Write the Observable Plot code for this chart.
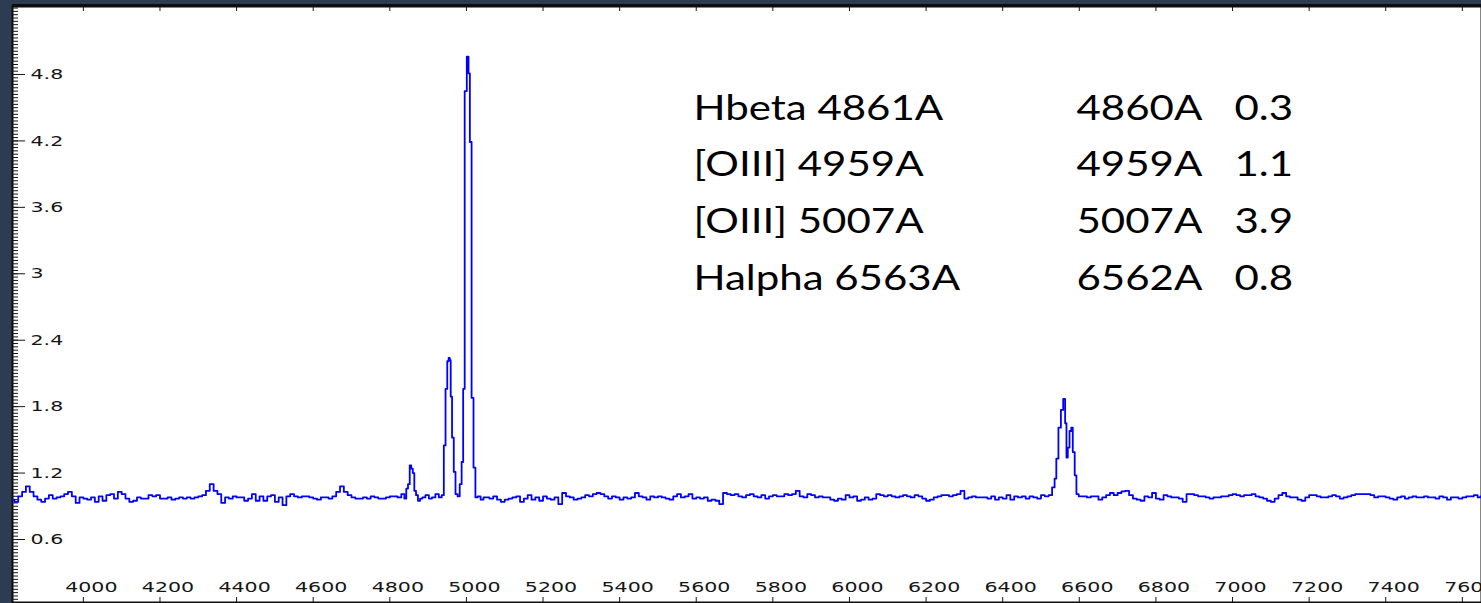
<!DOCTYPE html>
<html>
<head>
<meta charset="utf-8">
<script src="https://cdn.jsdelivr.net/npm/d3@7"></script>
<script src="https://cdn.jsdelivr.net/npm/@observablehq/plot@0.6"></script>
<style>
  html, body { margin: 0; padding: 0; width: 1481px; height: 603px; overflow: hidden; background: #2c3d52; }
  #chart { position: absolute; left: 11px; top: 2px; }
</style>
</head>
<body>
<div id="chart"></div>
<script>
// ---- data ----
// spectrum: [wavelength (Å), relative flux]
const spectrum = [
  [3815,.96],[3825,.94],[3835,.99],[3845,1.03],[3855,1.08],[3865,1.03],[3875,.99],[3885,.96],[3895,.94],[3905,.97],
  [3915,1.00],[3925,.97],[3935,.98],[3945,.99],[3955,1.01],[3965,1.03],[3975,.99],[3985,.93],[3995,.98],[4005,.97],
  [4015,.96],[4025,.98],[4035,.94],[4045,.99],[4055,.95],[4065,1.00],[4075,1.01],[4085,.97],[4095,1.03],[4105,1.01],
  [4115,.97],[4125,.94],[4135,.95],[4145,.98],[4155,.97],[4165,.97],[4175,1.00],[4185,.99],[4195,1.00],[4205,.97],
  [4215,.97],[4225,.98],[4235,.96],[4245,.97],[4255,.98],[4265,.97],[4275,.98],[4285,.97],[4295,.98],[4305,.99],
  [4315,1.00],[4325,1.04],[4335,1.10],[4345,1.04],[4355,1.01],[4365,.93],[4375,.98],[4385,.97],[4395,.99],[4405,.98],
  [4415,.98],[4425,.95],[4435,.97],[4445,1.01],[4455,.95],[4465,.99],[4475,.95],[4485,.99],[4495,1.00],[4505,.94],
  [4515,.98],[4525,.91],[4535,.99],[4545,1.01],[4555,.99],[4565,.98],[4575,.99],[4585,.99],[4595,.98],[4605,.97],
  [4615,.96],[4625,.98],[4635,.98],[4645,.97],[4655,.99],[4665,1.03],[4675,1.08],[4685,1.03],[4695,1.00],[4705,.98],
  [4715,.97],[4725,.97],[4735,.98],[4745,.97],[4755,.99],[4765,.98],[4775,.97],[4785,.97],[4795,.98],[4805,.99],
  [4815,.99],[4825,.98],[4835,1.01],
  // Hbeta, [OIII] 4959, [OIII] 5007
  [4841,.97],[4845,1.06],[4850,1.10],[4854,1.27],[4858,1.24],[4862,1.20],[4866,1.04],[4871,1.00],[4876,.95],[4882,.97],
  [4888,.98],[4898,1.00],[4906,.97],[4914,.98],[4924,1.01],[4932,.98],[4939,1.00],[4943,1.45],[4948,1.96],[4952,2.21],
  [4955,2.24],[4958,2.22],[4960,1.89],[4965,1.52],[4969,1.21],[4974,1.01],[4980,.99],[4985,1.10],[4990,1.30],[4993,1.96],
  [4998,4.65],[5004,4.96],[5007,4.81],[5011,4.19],[5016,1.88],[5021,1.25],[5026,.98],[5033,.99],[5041,.96],[5048,.98],
  [5055,.98],[5065,.97],[5075,.99],[5085,.96],[5095,.94],[5105,.96],[5115,.97],[5125,.98],[5135,.99],[5145,.94],
  [5155,.97],[5165,1.00],[5175,.96],[5185,.98],[5195,.95],[5205,.99],[5215,.97],[5225,.96],[5235,.98],[5245,.92],
  [5255,1.02],[5265,.99],[5275,.98],[5285,.96],[5295,.97],[5305,.98],[5315,1.00],[5325,.99],[5335,1.01],[5345,1.02],
  [5355,1.01],[5365,.99],[5375,.97],[5385,.99],[5395,.98],[5405,.96],[5415,.98],[5425,.97],[5435,.98],[5445,1.02],
  [5455,.99],[5465,.98],[5475,.96],[5485,.99],[5495,.98],[5505,.99],[5515,.98],[5525,.97],[5535,.96],[5545,.99],
  [5555,1.01],[5565,.98],[5575,.99],[5585,1.01],[5595,.97],[5605,.98],[5615,.97],[5625,.98],[5635,.95],[5645,.96],
  [5655,.95],[5665,.92],[5675,1.02],[5685,1.01],[5695,1.00],[5705,1.01],[5715,.99],[5725,.98],[5735,1.00],[5745,1.01],
  [5755,.99],[5765,.98],[5775,1.00],[5785,.97],[5795,.99],[5805,1.00],[5815,.99],[5825,.99],[5835,1.01],[5845,1.00],
  [5855,1.01],[5865,1.04],[5875,.99],[5885,.98],[5895,1.01],[5905,1.00],[5915,.98],[5925,.99],[5935,.98],[5945,.98],
  [5955,.96],[5965,.95],[5975,.97],[5985,.96],[5995,1.00],[6005,.98],[6015,.99],[6025,.95],[6035,.96],[6045,.98],
  [6055,.96],[6065,.97],[6075,1.01],[6085,1.00],[6095,.99],[6105,1.00],[6115,.99],[6125,.98],[6135,.99],[6145,1.00],
  [6155,.99],[6165,.98],[6175,1.00],[6185,.99],[6195,.97],[6205,.95],[6215,.96],[6225,.98],[6235,.99],[6245,1.00],
  [6255,1.00],[6265,.99],[6275,1.00],[6285,1.01],[6295,1.04],[6305,.97],[6315,.98],[6325,.99],[6335,.98],[6345,.98],
  [6355,.98],[6365,.97],[6375,.99],[6385,.96],[6395,.98],[6405,.97],[6415,1.00],[6425,.96],[6435,.99],[6445,.98],
  [6455,.99],[6465,.97],[6475,.99],[6485,.98],[6495,.97],[6505,1.00],[6515,.99],
  // Halpha + [NII]
  [6525,1.00],[6533,1.07],[6538,1.15],[6542,1.33],[6549,1.61],[6555,1.77],[6561,1.87],[6565,1.65],[6568,1.34],[6572,1.43],
  [6577,1.58],[6581,1.61],[6585,1.39],[6591,1.18],[6594,1.01],[6603,.99],
  [6615,.99],[6625,.98],[6635,.99],[6645,.99],[6655,.96],[6665,.98],[6675,1.00],[6685,1.02],[6695,1.00],[6705,1.02],
  [6715,1.035],[6725,1.04],[6735,1.00],[6745,.97],[6755,.96],[6765,.95],[6775,.99],[6785,.98],[6795,1.02],[6805,.97],
  [6815,.96],[6825,1.00],[6835,.99],[6845,.98],[6855,.98],[6865,.97],[6875,.94],[6885,1.01],[6895,1.01],[6905,1.00],
  [6915,.99],[6925,.99],[6935,.98],[6945,.97],[6955,.98],[6965,.98],[6975,.99],[6985,.99],[6995,1.00],[7005,1.01],
  [7015,1.00],[7025,.99],[7035,1.00],[7045,1.00],[7055,1.01],[7065,.99],[7075,.98],[7085,.97],[7095,.95],[7105,.94],
  [7115,.97],[7125,1.00],[7135,1.02],[7145,.99],[7155,.98],[7165,.98],[7175,.96],[7185,.95],[7195,.98],[7205,1.00],
  [7215,1.00],[7225,.99],[7235,.98],[7245,.98],[7255,.99],[7265,1.00],[7275,.99],[7285,.97],[7295,.98],[7305,.99],
  [7315,1.00],[7325,1.01],[7335,1.01],[7345,1.01],[7355,1.01],[7365,1.00],[7375,.98],[7385,.99],[7395,.99],[7405,.98],
  [7415,.97],[7425,.96],[7435,.98],[7445,.99],[7455,.97],[7465,.98],[7475,.99],[7485,.98],[7495,.98],[7505,.99],
  [7515,.98],[7525,.98],[7535,.97],[7545,.99],[7555,.98],[7565,.96],[7575,.98],[7585,.98],[7595,.97],[7605,.98],
  [7615,.99],[7625,.99],[7635,1.00],[7645,.98],[7650,.99]
];

const lineNames = ["Hbeta 4861A", "[OIII] 4959A", "[OIII] 5007A", "Halpha 6563A"];
const measuredAt = ["4860A", "4959A", "5007A", "6562A"];
const lineFlux = ["0.3", "1.1", "3.9", "0.8"];

const xTicks = [4000, 4200, 4400, 4600, 4800, 5000, 5200, 5400, 5600, 5800, 6000, 6200, 6400, 6600, 6800, 7000, 7200, 7400, 7600];
const yTicks = [0.6, 1.2, 1.8, 2.4, 3, 3.6, 4.2, 4.8];
const yTickLabels = ["0.6", "1.2", "1.8", "2.4", "3", "3.6", "4.2", "4.8"];

// ---- chart ----
const xDomain = [3815, 7650];
const yDomain = [0.031, 5.414];
const minorTicks = d3.range(2, 181).map(i => +(i * 0.03).toFixed(2));
const data = spectrum.map(([w, f]) => ({w, f}));
const ink = "#161616";
const noteFont = {frameAnchor: "top-left", dy: 180, lineAnchor: "middle", textAnchor: "start",
  fontSize: 35, lineHeight: 1.62, fill: "#000", fontFamily: "Lato, sans-serif"};

const plot = Plot.plot({
  width: 1470,
  height: 601,
  marginLeft: 1,
  marginRight: 0,
  marginTop: 4,
  marginBottom: 1,
  style: {background: "transparent", fontFamily: "DejaVu Sans, Verdana, sans-serif", color: ink},
  x: {domain: xDomain, label: null},
  y: {domain: yDomain, label: null},
  marks: [
    Plot.frame({fill: "white", stroke: "#0d0d0d", strokeWidth: 2}),
    Plot.ruleY([yDomain[1]], {stroke: "#0d0d0d", strokeWidth: 3, dy: -1}),
    // left axis: dense minor comb + major ticks + labels inside
    Plot.axisY(minorTicks, {anchor: "left", tickSize: -6, fill: "none", stroke: ink, label: null}),
    Plot.axisY(yTicks, {anchor: "left", tickSize: -13, fill: "none", stroke: ink, label: null}),
    Plot.axisY(yTicks, {anchor: "left", tickSize: 0, tickPadding: 0, textAnchor: "start", dx: 18,
      fontSize: 14.5, fill: ink, tickFormat: (d, i) => yTickLabels[i], label: null}),
    // top and bottom ticks
    Plot.axisX(xTicks, {anchor: "top", tickSize: -4, fill: "none", stroke: ink, label: null}),
    Plot.axisX(xTicks, {anchor: "bottom", tickSize: -5, fill: "none", stroke: ink, label: null}),
    Plot.axisX(xTicks, {anchor: "bottom", tickSize: 0, tickPadding: 0, dy: -15, dx: 8, lineAnchor: "middle",
      fontSize: 14.5, fill: ink, tickFormat: d => String(d), label: null}),
    // spectrum
    Plot.line(data, {x: "w", y: "f", stroke: "#0000ff", strokeWidth: 1.8, curve: "step"}),
    // annotation table
    Plot.text([lineNames.join("\n")], {...noteFont, dx: 681}),
    Plot.text([measuredAt.join("\n")], {...noteFont, dx: 1064}),
    Plot.text([lineFlux.join("\n")], {...noteFont, dx: 1222})
  ]
});

// the reference is horizontally stretched: widen glyphs around each text anchor
function stretch(selector, sx) {
  plot.querySelectorAll(selector).forEach(t => {
    const tr = t.getAttribute("transform") || "";
    t.setAttribute("transform", `${tr} scale(${sx},1)`);
  });
}
stretch('g[aria-label="y-axis tick label"] text', 1.42);
stretch('g[aria-label="x-axis tick label"] text', 1.42);
stretch('g[aria-label="text"] text', 1.2);

document.getElementById("chart").append(plot);
</script>
</body>
</html>
